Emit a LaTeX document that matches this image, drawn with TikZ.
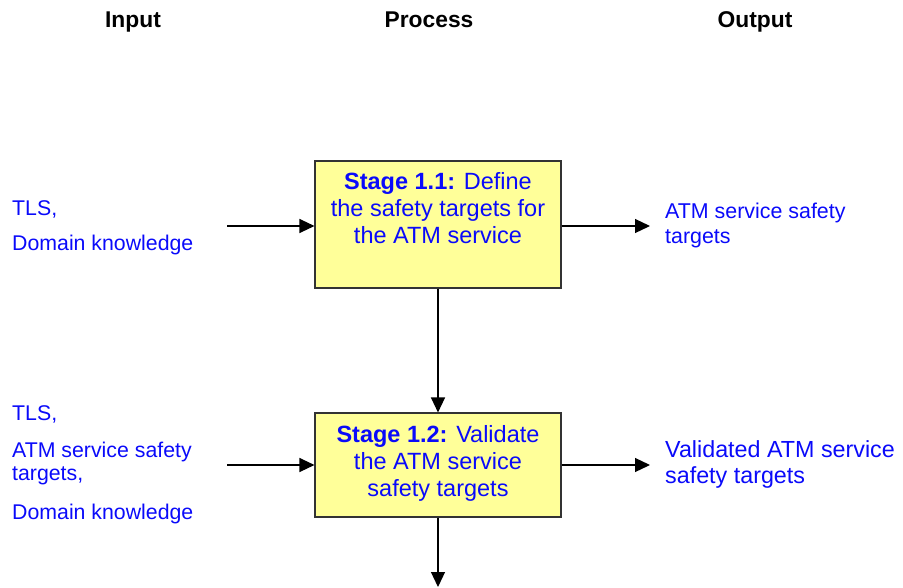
\documentclass[tikz,border=0pt]{standalone}
\usepackage{fontspec}
\setmainfont{Liberation Sans}
\usetikzlibrary{arrows.meta}
\definecolor{stagefill}{RGB}{255,255,153}
\definecolor{stageedge}{RGB}{51,51,51}
\definecolor{txtblue}{RGB}{10,10,250}
\newcommand{\topstrut}{\rule{0pt}{19pt}}
\tikzset{
  header/.style={font=\fontsize{22.8}{26}\selectfont\bfseries, anchor=base, inner sep=0pt},
  stagebox/.style={draw=stageedge, line width=1.1pt, fill=stagefill, inner sep=0pt},
  stagetext/.style={text=txtblue, align=center, anchor=north, inner sep=0pt,
    font=\fontsize{23.5}{27}\selectfont},
  inputtext/.style={text=txtblue, align=left, anchor=north west, inner sep=0pt,
    font=\fontsize{21.3}{24}\selectfont},
  outtext/.style={text=txtblue, align=left, anchor=north west, inner sep=0pt},
  flow/.style={line width=1.2pt, -{Triangle[length=15pt,width=14pt]}}
}
\begin{document}
\begin{tikzpicture}[x=1pt,y=-1pt]
\useasboundingbox (0,0) rectangle (903,587);

% column headers
\node[header] (hin)  at (133,27) {Input};
\node[header] (hpro) at (429,27) {Process};
\node[header] (hout) at (755,27) {Output};

% stage boxes
\node[stagebox, minimum width=246pt, minimum height=127pt] (b1) at (438,224.5) {};
\node[stagebox, minimum width=246pt, minimum height=104pt] (b2) at (438,465) {};

\node[stagetext] (t1) at (438,170) {\topstrut\textbf{Stage 1.1:} Define\\the safety targets for\\the ATM service};
\node[stagetext] (t2) at (438,423) {\topstrut\textbf{Stage 1.2:} Validate\\the ATM service\\safety targets};

% inputs
\node[inputtext] (i1) at (12,196) {\topstrut TLS,\\[11pt]Domain knowledge};
\node[inputtext] (i2) at (12,401) {\topstrut TLS,\\[13pt]ATM service safety\\[-1pt]targets,\\[15pt]Domain knowledge};

% outputs
\node[outtext, font=\fontsize{21.4}{24}\selectfont] (o1) at (665,199) {\topstrut ATM service safety\\[1pt]targets};
\node[outtext, font=\fontsize{23.3}{26}\selectfont] (o2) at (665,438) {\topstrut Validated ATM service\\safety targets};

% connector ends
\coordinate (in1) at (227,226);
\coordinate (out1) at (650,226);
\coordinate (in2) at (227,465);
\coordinate (out2) at (650,465);
\coordinate (next) at (438,587);

% connectors
\draw[flow] (in1) -- (in1 -| b1.west);
\draw[flow] (b1.east |- out1) -- (out1);
\draw[flow] (b1.south) -- (b2.north);
\draw[flow] (in2) -- (in2 -| b2.west);
\draw[flow] (b2.east |- out2) -- (out2);
\draw[flow] (b2.south) -- (next);
\end{tikzpicture}
\end{document}
